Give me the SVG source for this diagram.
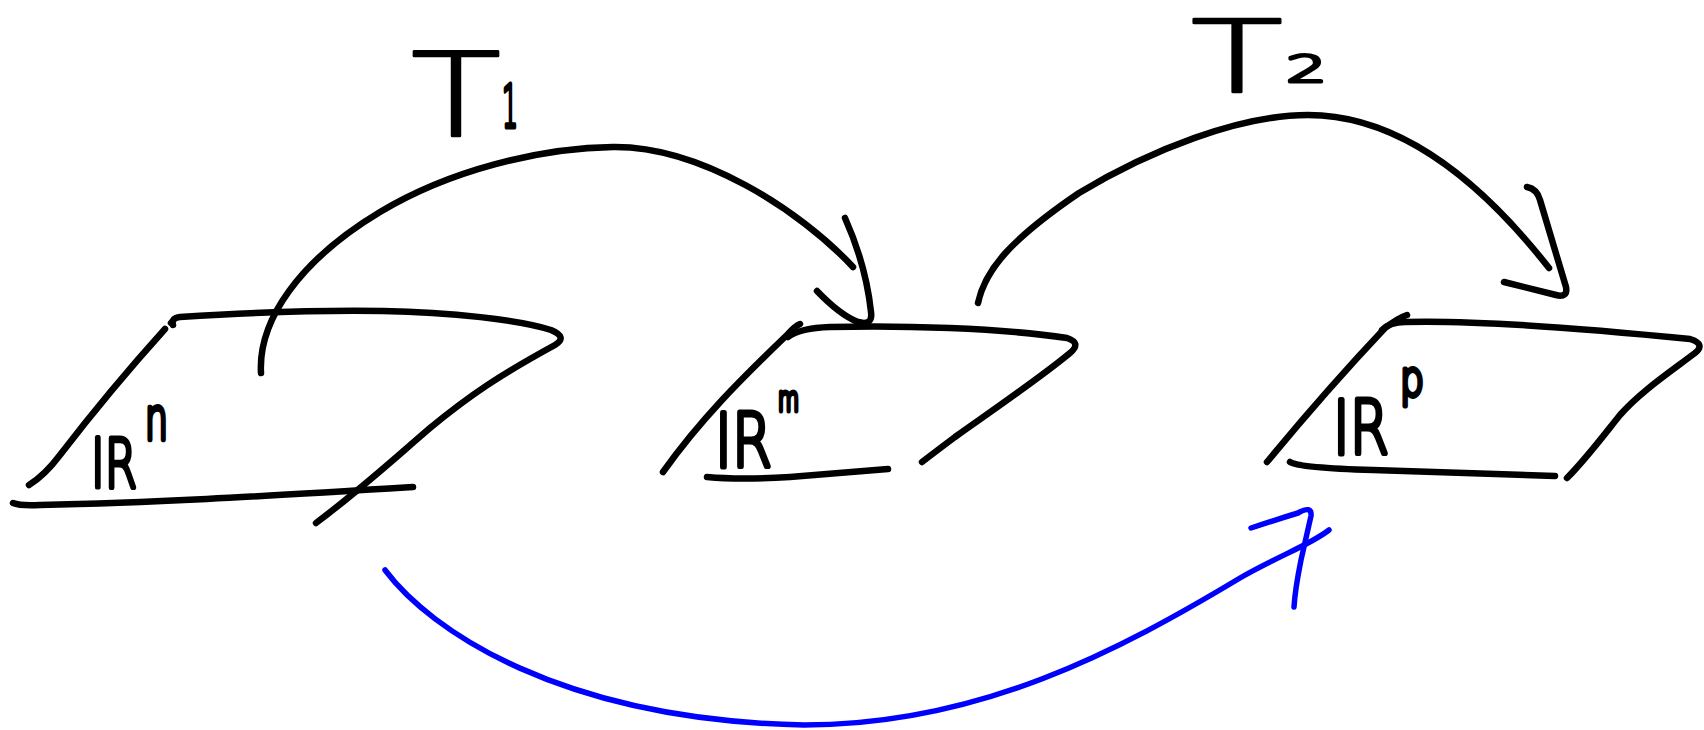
<svg xmlns="http://www.w3.org/2000/svg" width="1704" height="730" viewBox="0 0 1704 730">
<style>
.ink{fill:none;stroke:#000;stroke-width:6.5;stroke-linecap:round;stroke-linejoin:round}
.blue{fill:none;stroke:#0000ff;stroke-width:5.5;stroke-linecap:round;stroke-linejoin:round}
.lbl{font-family:"DejaVu Sans","Liberation Sans",sans-serif;font-weight:200;fill:#000;stroke:#000;stroke-linejoin:round;stroke-linecap:round}
</style>
<rect width="1704" height="730" fill="#fff"/>
<g id="plane-Rn">
<path class="ink" d="M165,329 Q110,390 60,455 Q45,475 29,485"/>
<path class="ink" d="M171,323 L172,322"/>
<path class="ink" d="M173,325 Q171,318 180,317 C260,312 330,310 383,311 C450,312 520,320 551,330 Q568,337 555,345 C500,375 470,395 430,428 C395,458 360,490 316,523"/>
<path class="ink" d="M13,503 Q20,506 40,505 C150,503 250,497 413,487"/>
<text class="lbl" transform="translate(91,487) scale(0.683,1)" font-size="68" stroke-width="5">IR</text>
<text class="lbl" transform="translate(145,440) scale(0.625,1)" font-size="58" stroke-width="5.5">n</text>
</g>
<g id="plane-Rm">
<path class="ink" d="M663,472 C700,420 740,380 788,334 Q795,326 800,324"/>
<path class="ink" d="M788,337 Q800,328 830,327 C900,325 1000,328 1067,338 Q1082,343 1070,353 C1040,378 990,412 955,437 Q935,452 922,462"/>
<path class="ink" d="M707,477 Q740,480 790,477 L888,469"/>
<text class="lbl" transform="translate(715,467) scale(0.778,1)" font-size="74" stroke-width="5">IR</text>
<text class="lbl" transform="translate(778,411) scale(0.654,1)" font-size="33" stroke-width="5">m</text>
</g>
<g id="plane-Rp">
<path class="ink" d="M1267,462 C1310,410 1350,365 1385,328 Q1398,318 1407,315"/>
<path class="ink" d="M1382,330 Q1390,322 1405,322 C1480,320 1600,330 1690,339 Q1706,344 1695,353 C1670,372 1640,392 1620,415 C1600,440 1585,460 1567,478"/>
<path class="ink" d="M1290,462 Q1300,468 1373,470 L1555,476"/>
<text class="lbl" transform="translate(1333,454) scale(0.764,1)" font-size="74" stroke-width="5">IR</text>
<text class="lbl" transform="translate(1400,396) scale(0.756,1)" font-size="50" stroke-width="5">p</text>
</g>
<g id="connectors">
<g id="T1">
<path class="ink" d="M261,373 C258,320 300,260 380,212 C450,170 540,148 613,147 C700,146 800,210 853,267"/>
<path class="ink" d="M817,291 Q840,315 858,322 Q873,326 871,312 Q866,265 845,218"/>
<text class="lbl" transform="translate(411,136) scale(1.27,1)" font-size="116" stroke-width="2.5">T</text>
<text class="lbl" transform="translate(502,127) scale(0.434,1)" font-size="58" stroke-width="5">1</text>
</g>
<g id="T2">
<path class="ink" d="M978,303 C985,270 1010,240 1079,193 C1150,150 1240,115 1308,115 C1400,115 1480,180 1549,268"/>
<path class="ink" d="M1527,187 Q1537,189 1540,200 L1566,287 Q1568,298 1556,295 L1504,282"/>
<text class="lbl" transform="translate(1191,92) scale(1.52,1)" font-size="99" stroke-width="2.5">T</text>
<text class="lbl" transform="translate(1286,82) scale(1.74,1)" font-size="37" stroke-width="3">2</text>
</g>
<g id="composite">
<path class="blue" d="M385,570 C430,630 560,720 804,725 C980,725 1120,650 1240,578 C1280,555 1310,545 1329,530"/>
<path class="blue" d="M1251,528 Q1275,520 1298,513 Q1312,505 1311,516 L1301,560 Q1295,590 1294,607"/>
</g>
</g>
</svg>
